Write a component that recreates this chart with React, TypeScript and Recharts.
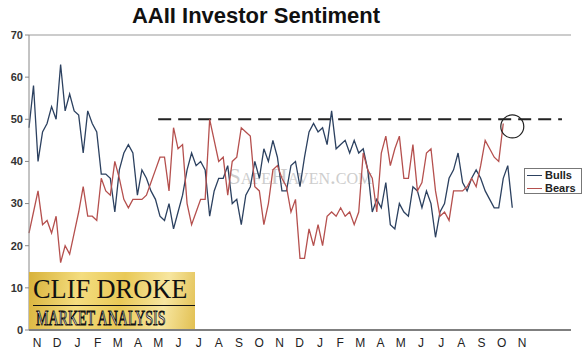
import {
  ComposedChart, Line, XAxis, YAxis, ReferenceLine, ReferenceDot,
} from "recharts";

// weekly AAII readings, Nov .. Nov
const bulls = [
  48, 58, 40, 47, 49, 53, 50, 63, 52, 56, 52, 51, 42, 52, 49, 47, 37, 37, 36, 28, 38, 42, 44, 42, 32, 38, 36, 33,
  31, 27, 26, 30, 24, 28, 32, 38, 42, 39, 40, 38, 27, 33, 36, 36, 39, 30, 31, 25, 32, 34, 40, 36, 43, 40, 45, 41,
  33, 33, 39, 40, 34, 41, 47, 49, 47, 48, 44, 52, 43, 44, 45, 42, 45, 42, 43, 38, 28, 31, 29, 35, 25, 24, 30,
  28, 27, 34, 33, 29, 33, 30, 22, 28, 30, 36, 38, 42, 35, 33, 36, 38, 36, 33, 31, 29, 29, 36, 39, 29,
];
const bears = [
  23, 28, 33, 25, 26, 23, 27, 16, 20, 18, 23, 28, 34, 27, 27, 26, 36, 33, 32, 40, 36, 31, 29, 31, 31, 31, 32, 35,
  38, 41, 41, 33, 48, 43, 44, 30, 25, 28, 31, 31, 50, 45, 40, 41, 32, 40, 41, 48, 47, 46, 34, 33,
  25, 30, 38, 39, 36, 34, 28, 31, 17, 17, 24, 20, 25, 20, 27, 28, 27, 29, 27, 28, 25, 28, 42, 38, 36, 28, 42, 46, 39,
  43, 46, 36, 36, 44, 33, 35, 42, 43, 33, 27, 28, 26, 33, 33, 33, 34, 36, 34, 39, 45, 43, 41, 40, 49,
];
const months = ["N", "D", "J", "F", "M", "A", "M", "J", "J", "A", "S", "O", "N",
  "D", "J", "F", "M", "A", "M", "J", "J", "A", "S", "O", "N"];
const yTicks = [0, 10, 20, 30, 40, 50, 60, 70];

const BULL = "#2c4160";
const BEAR = "#b5504e";

// month labels sit ~4.47 weeks apart, first one a bit after the start
const firstMonth = 1.77;
const monthStep = 4.474;
const monthTicks = months.map((_, k) => firstMonth + k * monthStep);

const data = bulls.map((b, i) => ({ i, Bulls: b, Bears: bears[i] }));

function LegendBox() {
  const row = (name: string, color: string) => (
    <div style={{ display: "flex", alignItems: "center", height: 13 }}>
      <span style={{ width: 15, height: 0, borderTop: `1.3px solid ${color}`, marginRight: 3 }} />
      <span>{name}</span>
    </div>
  );
  return (
    <div style={{
      position: "absolute", left: 524, top: 168,
      width: 58, height: 26, border: "1px solid #777", background: "#fff",
      fontFamily: "Liberation Sans, Arial, sans-serif", fontSize: 11, fontWeight: 700,
      color: "#222", padding: "0 0 0 2px", boxSizing: "border-box", lineHeight: "13px",
    }}>
      {row("Bulls", BULL)}
      {row("Bears", BEAR)}
    </div>
  );
}

export default function App() {
  return (
    <div style={{ position: "absolute", left: 0, top: 0, width: 587, height: 357, background: "#fff" }}>
      {/* watermark sits behind the lines */}
      <div style={{
        position: "absolute", left: 228, top: 165, color: "#cdcdcd",
        fontFamily: "Liberation Serif, serif", fontSize: 23, fontVariant: "small-caps", lineHeight: "23px",
        whiteSpace: "nowrap",
      }}>
        SafeHaven.com
      </div>
      <div style={{
        position: "absolute", left: 0, top: 3, width: 512, textAlign: "center",
        fontFamily: "Liberation Sans, Arial, sans-serif", fontWeight: 700, fontSize: 22,
        lineHeight: "26px", color: "#111",
      }}>
        AAII Investor Sentiment
      </div>
      <div style={{ position: "absolute", left: 0, top: 0 }}>
        <ComposedChart width={587} height={357} data={data}
          margin={{ top: 35, right: 16, bottom: 0, left: 0 }}>
          <XAxis dataKey="i" type="number" domain={[0, 120]} ticks={monthTicks} interval={0}
            tickFormatter={(v: number) => months[Math.round((v - firstMonth) / monthStep)]}
            tickLine={false} axisLine={{ stroke: "#555", strokeWidth: 1.5 }} height={27}
            tick={{ fontSize: 12, fill: "#222", fontFamily: "Liberation Sans, Arial, sans-serif" }} />
          <YAxis domain={[0, 70]} ticks={yTicks} width={29} tickSize={4}
            axisLine={{ stroke: "#888" }} tickLine={{ stroke: "#888" }}
            tick={{ fontSize: 11, fontWeight: 700, fill: "#333", fontFamily: "Liberation Sans, Arial, sans-serif" }} />
          <YAxis yAxisId="r" orientation="right" width={0} tick={false} tickLine={false}
            axisLine={{ stroke: "#444", strokeWidth: 1.5 }} />
          <ReferenceLine y={70} stroke="#999" />
          <ReferenceLine segment={[{ x: 28.6, y: 50 }, { x: 118, y: 50 }]}
            stroke="#222" strokeWidth={2} strokeDasharray="13 7" />
          <Line dataKey="Bulls" type="linear" stroke={BULL} strokeWidth={1.3} dot={false} isAnimationActive={false} />
          <Line dataKey="Bears" type="linear" stroke={BEAR} strokeWidth={1.3} dot={false} isAnimationActive={false} />
          <ReferenceDot x={107} y={48.3} r={11.5} fill="none" stroke="#222" strokeWidth={1.2} />
        </ComposedChart>
      </div>
      <LegendBox />
      <div style={{
        position: "absolute", left: 29, top: 272, width: 166, height: 57, overflow: "hidden",
        background: "linear-gradient(100deg, #d8b23a 0%, #f4dd7f 30%, #e9c957 55%, #f7e6a0 80%, #e2c052 100%)",
      }}>
        <div style={{
          position: "absolute", left: 4, top: 3, fontFamily: "Liberation Serif, serif", fontSize: 28,
          lineHeight: "28px", color: "#111", whiteSpace: "nowrap", transform: "scaleX(0.94)", transformOrigin: "left",
        }}>
          CLIF DROKE
        </div>
        <div style={{ position: "absolute", left: 4, top: 33, width: 162, height: 0, borderTop: "1.5px solid #111" }} />
        <div style={{
          position: "absolute", left: 7, top: 36, fontFamily: "Liberation Serif, serif", fontSize: 20,
          lineHeight: "20px", color: "#fff", whiteSpace: "nowrap", WebkitTextStroke: "1px #111",
          transform: "scaleX(0.7)", transformOrigin: "left",
        }}>
          MARKET ANALYSIS
        </div>
      </div>
    </div>
  );
}
